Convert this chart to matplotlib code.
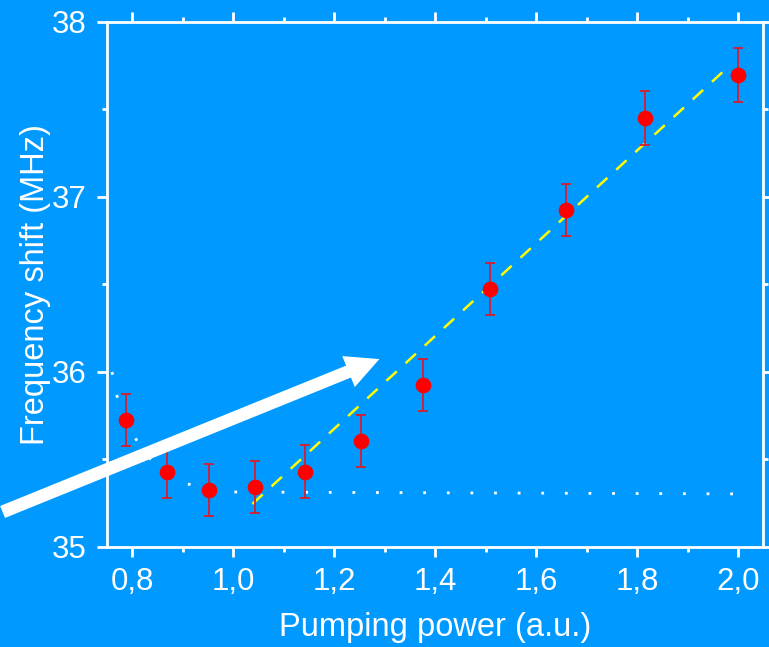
import numpy as np
import matplotlib
matplotlib.use("Agg")
import matplotlib.pyplot as plt
from matplotlib.patches import FancyArrowPatch
from matplotlib.ticker import MultipleLocator

plt.rcParams['font.family'] = ['Liberation Sans', 'DejaVu Sans']

# measured frequency shift vs pumping power
power = [0.788, 0.869, 0.953, 1.044, 1.143, 1.254, 1.375, 1.508, 1.658, 1.815, 2.000]
shift = [35.726, 35.429, 35.326, 35.343, 35.430, 35.606, 35.926, 36.474, 36.926, 37.451, 37.697]
shift_err = [0.15, 0.15, 0.15, 0.15, 0.15, 0.15, 0.15, 0.15, 0.15, 0.155, 0.155]

# linear fit above threshold
fit_x = [1.038, 1.980]
fit_y = [35.246, 37.743]

# level below threshold
base_x = [0.760, 0.768, 0.806, 0.828, 0.909, 1.002, 2.023]
base_y = [36.000, 35.874, 35.623, 35.520, 35.360, 35.314, 35.303]

bg = '#0099ff'
fig = plt.figure(figsize=(7.69, 6.47), dpi=100, facecolor=bg)
ax = fig.add_axes([0.1391, 0.1546, 0.8537, 0.8114], facecolor=bg)

ax.plot(base_x, base_y, color='white', lw=2.0, dashes=(1.0, 7.5), dash_capstyle='butt', zorder=2)
ax.plot(fit_x, fit_y, color='#ffff00', lw=1.8, dashes=(5.6, 4.8), zorder=3)
ax.errorbar(power, shift, yerr=shift_err, fmt='o', color='#ff0000', ms=10.3,
            ecolor='#d81e2c', elinewidth=1.3, capsize=3.5, capthick=1.3, zorder=4)

ax.set_xlim(0.75, 2.05)
ax.set_ylim(35, 38)
ax.xaxis.set_major_locator(MultipleLocator(0.2))
ax.xaxis.set_minor_locator(MultipleLocator(0.1))
ax.yaxis.set_major_locator(MultipleLocator(1))
ax.yaxis.set_minor_locator(MultipleLocator(0.5))
ax.xaxis.set_major_formatter(lambda v, p: f"{v:.1f}".replace('.', ','))

for s in ax.spines.values():
    s.set_color('white')
    s.set_linewidth(2.0)
ax.tick_params(which='both', direction='out', color='white', width=2.0,
               top=True, right=True, labelcolor='white', labelsize=22.5, pad=7)
ax.tick_params(which='major', length=7.5)
ax.tick_params(which='minor', length=3.5)

ax.set_xlabel('Pumping power (a.u.)', color='white', fontsize=23.5, labelpad=11)
ax.set_ylabel('Frequency shift (MHz)', color='white', fontsize=23.5, labelpad=0.5)

# arrow pointing at the threshold region
arrow = FancyArrowPatch((0.0, 1 - 513 / 647), (382 / 769, 1 - 358 / 647),
                        transform=fig.transFigure, arrowstyle='simple,head_length=1.6,head_width=1.6,tail_width=0.62',
                        mutation_scale=15, color='white', lw=0, zorder=5)
fig.add_artist(arrow)

fig.savefig('out.png', dpi=100, facecolor=bg)
